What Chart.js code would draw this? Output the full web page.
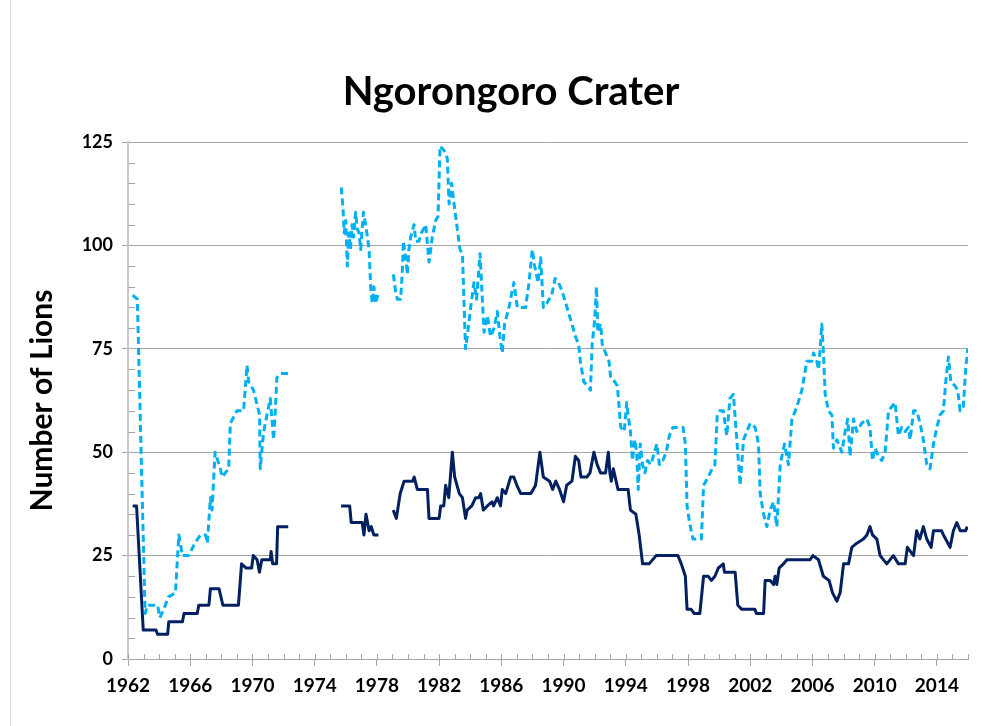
<!DOCTYPE html>
<html>
<head>
<meta charset="utf-8">
<script src="https://cdn.jsdelivr.net/npm/chart.js"></script>
<style>
  body { margin: 0; background: #fff; }
</style>
</head>
<body>
<canvas id="myChart" width="1000" height="726"></canvas>
<script>
    // tick labels
    const xTickYears = [1962, 1966, 1970, 1974, 1978, 1982, 1986, 1990, 1994, 1998, 2002, 2006, 2010, 2014];
    const yTickValues = [0, 25, 50, 75, 100, 125];

    // light blue dashed series (null = no counts)
    const totalYears = [
      1962.3, 1962.6, 1963.1, 1963.25, 1963.9, 1964.05, 1964.3, 1964.6, 1965.05, 1965.27, 1965.5, 1965.9,
      1966.3, 1966.65, 1967.0, 1967.1, 1967.3, 1967.4, 1967.6, 1967.94, 1968.05, 1968.47, 1968.58, 1969.0,
      1969.43, 1969.65, 1969.76, 1970.07, 1970.46, 1970.5, 1970.72, 1970.93, 1971.15, 1971.36, 1971.47, 1971.57,
      1971.8, 1972.3,
      1974,
      1975.71, 1975.82, 1975.9, 1976.0, 1976.1, 1976.2, 1976.3, 1976.4, 1976.5, 1976.63, 1976.74, 1976.85,
      1976.96, 1977.13, 1977.28, 1977.5, 1977.6, 1977.7, 1977.81, 1977.92, 1978.07,
      1978.6,
      1979.06, 1979.2, 1979.31, 1979.53, 1979.64, 1979.7, 1979.85, 1979.96, 1980.06, 1980.17, 1980.39, 1980.5,
      1980.7, 1980.86, 1981.14, 1981.35, 1981.46, 1981.56, 1981.78, 1981.93, 1982.06, 1982.31, 1982.53, 1982.64,
      1982.8, 1982.96, 1983.17, 1983.34, 1983.5, 1983.7, 1983.81, 1984.03, 1984.24, 1984.41, 1984.63, 1984.78,
      1984.89, 1985.1, 1985.31, 1985.53, 1985.74, 1985.91, 1986.06, 1986.21, 1986.49, 1986.7, 1986.81, 1987.03,
      1987.24, 1987.56, 1987.78, 1987.99, 1988.14, 1988.36, 1988.53, 1988.7, 1988.92, 1989.24, 1989.46, 1989.68,
      1989.9, 1990.22, 1990.54, 1990.76, 1990.97, 1991.08, 1991.3, 1991.56, 1991.73, 1991.84, 1992.0, 1992.12,
      1992.2, 1992.38, 1992.49, 1992.7, 1992.92, 1993.03, 1993.3, 1993.46, 1993.68, 1993.9, 1994.06, 1994.15,
      1994.3, 1994.43, 1994.58, 1994.7, 1994.8, 1994.93, 1995.08, 1995.23, 1995.4, 1995.62, 1995.84, 1996.0,
      1996.16, 1996.38, 1996.6, 1996.8, 1997.03, 1997.35, 1997.68, 1997.83, 1997.94, 1998.1, 1998.32, 1998.86,
      1999.0, 1999.3, 1999.55, 1999.73, 1999.88, 2000.05, 2000.27, 2000.49, 2000.7, 2000.92, 2001.14, 2001.35,
      2001.57, 2001.78, 2002.0, 2002.32, 2002.53, 2002.64, 2002.86, 2003.07, 2003.28, 2003.5, 2003.71, 2003.93,
      2004.2, 2004.46, 2004.68, 2005.0, 2005.32, 2005.64, 2005.96, 2006.07, 2006.28, 2006.39, 2006.5, 2006.6,
      2006.71, 2006.82, 2007.03, 2007.25, 2007.35, 2007.57, 2007.89, 2008.1, 2008.27, 2008.42, 2008.64, 2008.85,
      2009.17, 2009.5, 2009.7, 2009.86, 2010.03, 2010.24, 2010.46, 2010.67, 2010.89, 2011.1, 2011.31, 2011.53,
      2011.74, 2011.96, 2012.17, 2012.28, 2012.5, 2012.7, 2012.92, 2013.13, 2013.35, 2013.56, 2013.78, 2014.0,
      2014.2, 2014.42, 2014.57, 2014.74, 2014.9, 2015.17, 2015.34, 2015.49, 2015.7, 2015.85, 2015.98
    ];
    const totalCounts = [
      88, 87, 11, 13, 13, 10, 12, 15, 16, 30, 25, 25,
      28, 30, 30, 28, 39, 36, 50, 46, 44, 46, 57, 60,
      60, 71, 67, 65, 59, 46, 55, 59, 63, 53, 60, 68,
      69, 69,
      null,
      114, 109, 103, 106, 95, 103, 99, 105, 102, 108, 104, 103,
      99, 108, 105, 99, 90, 86, 90, 86, 88,
      null,
      93, 89, 87, 87, 94, 101, 97, 93, 99, 102, 105, 101,
      101, 103, 105, 96, 99, 102, 106, 107, 124, 123, 121, 110,
      115, 110, 104, 99, 98, 75, 78, 85, 91, 87, 98, 87,
      79, 83, 78, 80, 84, 78, 74, 81, 85, 89, 91, 85,
      85, 85, 91, 99, 95, 91, 97, 85, 86, 88, 92, 91,
      89, 85, 81, 78, 76, 72, 67, 66, 65, 76, 82, 90,
      79, 81, 76, 74, 72, 68, 67, 66, 56, 55, 62, 59,
      55, 48, 53, 50, 41, 52, 47, 45, 48, 47, 50, 52,
      47, 48, 50, 54, 56, 56, 56, 52, 37, 33, 29, 29,
      42, 44, 46, 47, 59, 60, 60, 54, 63, 64, 53, 42,
      53, 55, 57, 56, 52, 40, 35, 32, 36, 38, 32, 47,
      52, 47, 58, 61, 65, 72, 72, 74, 72, 70, 75, 81,
      74, 64, 60, 59, 51, 53, 50, 55, 58, 49, 58, 55,
      57, 58, 56, 48, 51, 49, 48, 50, 60, 61, 62, 54,
      56, 55, 56, 53, 60, 60, 57, 53, 47, 46, 52, 56,
      59, 60, 67, 73, 67, 66, 65, 60, 61, 70, 75
    ];

    // dark navy solid series
    const adultYears = [
      1962.3, 1962.55, 1962.98, 1963.8, 1963.9, 1964.55, 1964.62, 1965.5, 1965.6, 1966.45, 1966.55, 1967.2,
      1967.3, 1967.85, 1968.1, 1969.1, 1969.3, 1969.6, 1969.95, 1970.05, 1970.3, 1970.45, 1970.6, 1971.15,
      1971.2, 1971.3, 1971.55, 1971.62, 1972.3,
      1974,
      1975.7, 1976.25, 1976.35, 1977.05, 1977.17, 1977.3, 1977.5, 1977.64, 1977.8, 1978.1,
      1978.6,
      1979.05, 1979.25, 1979.5, 1979.75, 1980.3, 1980.4, 1980.6, 1980.8, 1981.25, 1981.35, 1982.0, 1982.1,
      1982.3, 1982.42, 1982.62, 1982.85, 1983.0, 1983.3, 1983.5, 1983.7, 1983.8, 1984.1, 1984.35, 1984.55,
      1984.67, 1984.84, 1985.1, 1985.4, 1985.5, 1985.74, 1985.95, 1986.06, 1986.28, 1986.6, 1986.8, 1987.0,
      1987.25, 1987.9, 1988.2, 1988.48, 1988.7, 1989.1, 1989.3, 1989.5, 1989.74, 1990.0, 1990.2, 1990.54,
      1990.76, 1990.97, 1991.12, 1991.5, 1991.7, 1991.95, 1992.16, 1992.38, 1992.7, 1992.88, 1992.98, 1993.07,
      1993.2, 1993.5, 1994.15, 1994.3, 1994.65, 1994.86, 1995.08, 1995.5, 1995.95, 1997.35, 1997.57, 1997.83,
      1997.94, 1998.2, 1998.4, 1998.76, 1999.0, 1999.3, 1999.5, 1999.73, 1999.95, 2000.27, 2000.34, 2001.03,
      2001.2, 2001.46, 2002.3, 2002.4, 2002.86, 2002.96, 2003.28, 2003.5, 2003.6, 2003.71, 2003.86, 2004.14,
      2004.36, 2005.85, 2006.03, 2006.39, 2006.7, 2007.07, 2007.29, 2007.57, 2007.78, 2008.0, 2008.32, 2008.53,
      2008.85, 2009.28, 2009.5, 2009.7, 2009.86, 2010.14, 2010.35, 2010.78, 2011.2, 2011.53, 2011.96, 2012.1,
      2012.5, 2012.7, 2012.9, 2013.13, 2013.35, 2013.63, 2013.78, 2014.3, 2014.42, 2014.85, 2015.06, 2015.28,
      2015.5, 2015.85, 2015.95
    ];
    const adultCounts = [
      37, 37, 7, 7, 6, 6, 9, 9, 11, 11, 13, 13,
      17, 17, 13, 13, 23, 22, 22, 25, 24, 21, 24, 24,
      26, 23, 23, 32, 32,
      null,
      37, 37, 33, 33, 30, 35, 31, 32, 30, 30,
      null,
      36, 34, 40, 43, 43, 44, 41, 41, 41, 34, 34, 37,
      37, 42, 39, 50, 44, 40, 39, 34, 36, 37, 39, 39,
      40, 36, 37, 38, 37, 39, 37, 41, 40, 44, 44, 42,
      40, 40, 42, 50, 44, 43, 41, 43, 41, 38, 42, 43,
      49, 48, 44, 44, 45, 50, 47, 45, 45, 50, 45, 43,
      46, 41, 41, 36, 35, 30, 23, 23, 25, 25, 23, 20,
      12, 12, 11, 11, 20, 20, 19, 20, 22, 23, 21, 21,
      13, 12, 12, 11, 11, 19, 19, 18, 20, 18, 22, 23,
      24, 24, 25, 24, 20, 19, 16, 14, 16, 23, 23, 27,
      28, 29, 30, 32, 30, 29, 25, 23, 25, 23, 23, 27,
      25, 31, 29, 32, 29, 27, 31, 31, 30, 27, 31, 33,
      31, 31, 32
    ];

    const toPoints = (xs, ys) => xs.map((x, i) => ({ x: x, y: ys[i] }));

    const data = {
      datasets: [
        {
          label: "Total",
          data: toPoints(totalYears, totalCounts),
          borderColor: "#00B0F0",
          borderWidth: 3,
          borderDash: [7, 4],
          borderJoinStyle: "round",
          pointRadius: 0,
          tension: 0,
          spanGaps: false,
        },
        {
          label: "Adults",
          data: toPoints(adultYears, adultCounts),
          borderColor: "#002060",
          borderWidth: 3,
          borderJoinStyle: "round",
          pointRadius: 0,
          tension: 0,
          spanGaps: false,
        },
      ],
    };

    // title, slide edge and minor tick marks
    const chartDecor = {
      id: "chartDecor",
      beforeDraw(chart) {
        const { ctx } = chart;
        ctx.save();
        ctx.strokeStyle = "#d9d9d9";
        ctx.lineWidth = 1;
        ctx.beginPath();
        ctx.moveTo(10.5, 0);
        ctx.lineTo(10.5, 726);
        ctx.stroke();
        ctx.restore();
      },
      afterDraw(chart) {
        const { ctx, chartArea: { left, bottom }, scales: { x, y } } = chart;
        ctx.save();
        ctx.strokeStyle = "#a6a6a6";
        ctx.lineWidth = 1;
        ctx.beginPath();
        for (let yr = 1962; yr <= 2016; yr++) {
          const px = Math.round(x.getPixelForValue(yr)) + 0.5;
          ctx.moveTo(px, bottom - 5);
          ctx.lineTo(px, bottom);
        }
        for (let v = 5; v < 125; v += 5) {
          if (v % 25 === 0) continue;
          const py = Math.round(y.getPixelForValue(v)) + 0.5;
          ctx.moveTo(left, py);
          ctx.lineTo(left + 7, py);
        }
        ctx.stroke();

        ctx.fillStyle = "#000";
        ctx.font = "bold 40px Lato";
        ctx.textAlign = "center";
        ctx.textBaseline = "middle";
        ctx.fillText("Ngorongoro Crater", 511, 92);
        ctx.restore();
      },
    };

    const config = {
      type: "line",
      data,
      options: {
        responsive: false,
        animation: false,
        layout: { padding: { top: 142, right: 32, bottom: 0, left: 0 } },
        plugins: {
          legend: { display: false },
          tooltip: { enabled: false },
        },
        scales: {
          x: {
            type: "linear",
            min: 1962,
            max: 2016,
            afterBuildTicks(scale) {
              scale.ticks = xTickYears.map((v) => ({ value: v }));
            },
            afterFit(scale) {
              scale.height = 67;
            },
            ticks: {
              autoSkip: false,
              maxRotation: 0,
              padding: 8,
              color: "#000",
              font: { family: "Lato", weight: "bold", size: 19 },
              callback: (v) => String(v),
            },
            grid: { drawOnChartArea: false, tickLength: 7, color: "#a6a6a6" },
            border: { color: "#a6a6a6", width: 1 },
          },
          y: {
            min: 0,
            max: 125,
            afterBuildTicks(scale) {
              scale.ticks = yTickValues.map((v) => ({ value: v }));
            },
            afterFit(scale) {
              scale.width = 128;
            },
            ticks: {
              padding: 9,
              color: "#000",
              font: { family: "Lato", weight: "bold", size: 18 },
            },
            grid: { color: "#a6a6a6", tickLength: 6 },
            border: { color: "#c8c8c8", width: 2 },
            title: {
              display: true,
              text: "Number of Lions",
              color: "#000",
              font: { family: "Lato", weight: "bold", size: 30 },
              padding: { top: 24, bottom: 0 },
            },
          },
        },
      },
      plugins: [chartDecor],
    };

    const myChart = new Chart(document.getElementById("myChart"), config);
</script>
</body>
</html>
